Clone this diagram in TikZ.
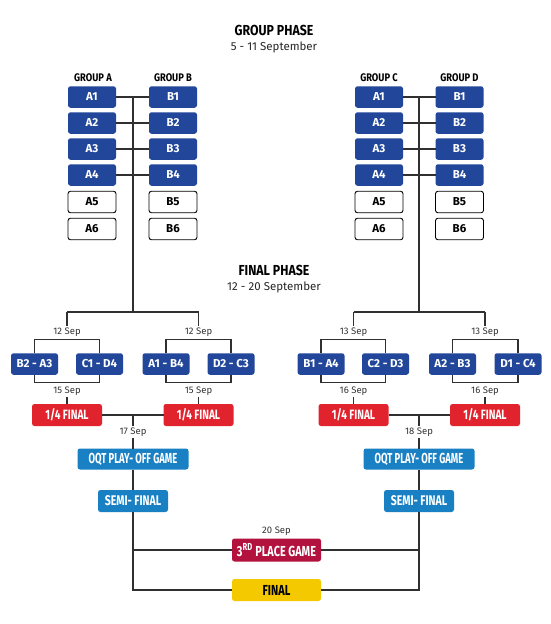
\documentclass[tikz,border=0pt]{standalone}
\usepackage{fontspec}
\setmainfont{Fira Sans}
\newfontfamily\fA{Fira Sans}[FakeStretch=0.65]
\newfontfamily\fB{Fira Sans}[FakeStretch=0.75]
\newfontfamily\fC{Fira Sans}[FakeStretch=0.85]
\newfontfamily\fD{Fira Sans}
\definecolor{gblue}{HTML}{21469A}
\definecolor{qred}{HTML}{E1232E}
\definecolor{lblue}{HTML}{1A80C4}
\definecolor{maroon}{HTML}{B3123F}
\definecolor{gold}{HTML}{F4C900}
\definecolor{linec}{HTML}{303030}
\begin{document}
\begin{tikzpicture}[x=1pt,y=-1pt,
  every node/.style={inner sep=0pt, outer sep=0pt},
  grp/.style={font=\fD\bfseries\fontsize{11.5}{12}\selectfont, text=white, fill=gblue, rounded corners=2.5pt, minimum width=48pt, minimum height=21.5pt},
  wgrp/.style={grp, fill=white, draw=black, line width=0.9pt, text=black},
  match/.style={grp, minimum width=47pt, minimum height=21.5pt},
  qf/.style={grp, fill=qred, font=\fB\bfseries\fontsize{13.5}{14}\selectfont, minimum width=70pt, minimum height=22pt},
  oqt/.style={grp, fill=lblue, font=\fA\bfseries\fontsize{14.5}{15}\selectfont, minimum width=111pt, minimum height=21pt},
  semi/.style={grp, fill=lblue, font=\fB\bfseries\fontsize{14}{15}\selectfont, minimum width=70pt, minimum height=22pt},
  third/.style={grp, fill=maroon, font=\fB\bfseries\fontsize{14.5}{15}\selectfont, minimum width=89pt, minimum height=23pt},
  fin/.style={grp, fill=gold, text=black, font=\fB\bfseries\fontsize{14.5}{15}\selectfont, minimum width=89pt, minimum height=22pt},
  glabel/.style={font=\fC\bfseries\fontsize{11}{12}\selectfont},
  date/.style={font=\fD\fontsize{9.5}{10}\selectfont, text=black!80, inner sep=1.5pt},
  title/.style={font=\fC\bfseries\fontsize{14.5}{16}\selectfont},
  subtitle/.style={font=\fD\fontsize{11.5}{13}\selectfont, text=black!85},
  conn/.style={line width=1.1pt, draw=linec}
]
\useasboundingbox[fill=white] (0,0) rectangle (550,624);

% titles
\node[title] (t1) at (274,30) {GROUP PHASE};
\node[subtitle] (t2) at (274,47) {5 - 11 September};
\node[title] (t3) at (274,270) {FINAL PHASE};
\node[subtitle] (t4) at (274,287) {12 - 20 September};

% group labels
\node[glabel] (la) at (93,78) {GROUP A};
\node[glabel] (lb) at (173,78) {GROUP B};
\node[glabel] (lc) at (379,78) {GROUP C};
\node[glabel] (ld) at (459.5,78) {GROUP D};

% group boxes
\foreach \i/\yy in {1/97,2/123,3/149,4/175} {
  \node[grp] (ga\i) at (92,\yy) {A\i};
  \node[grp] (gb\i) at (173,\yy) {B\i};
  \node[grp] (gc\i) at (379,\yy) {A\i};
  \node[grp] (gd\i) at (459.5,\yy) {B\i};
  \draw[conn] (ga\i) -- (gb\i);
  \draw[conn] (gc\i) -- (gd\i);
}
\foreach \i/\yy in {5/202,6/229} {
  \node[wgrp] (ga\i) at (92,\yy) {A\i};
  \node[wgrp] (gb\i) at (173,\yy) {B\i};
  \node[wgrp] (gc\i) at (379,\yy) {A\i};
  \node[wgrp] (gd\i) at (459.5,\yy) {B\i};
}

% trunk lines
\coordinate (jL) at (133,312);
\coordinate (jR) at (419,312);
\draw[conn] (jL |- ga1) -- (jL);
\draw[conn] (jR |- gc1) -- (jR);
\coordinate (qL1) at (67,312);
\coordinate (qL2) at (198.5,312);
\coordinate (qR1) at (353.5,312);
\coordinate (qR2) at (485,312);
\draw[conn] (qL1) -- (qL2);
\draw[conn] (qR1) -- (qR2);

% date labels round of 8 matches
\node[date] (d12a) at (67,332) {12 Sep};
\node[date] (d12b) at (198.5,332) {12 Sep};
\node[date] (d13a) at (353.5,332) {13 Sep};
\node[date] (d13b) at (485,332) {13 Sep};
\draw[conn] (qL1) -- (d12a.north);
\draw[conn] (qL2) -- (d12b.north);
\draw[conn] (qR1) -- (d13a.north);
\draw[conn] (qR2) -- (d13b.north);

% matches
\node[match] (m1) at (34.5,364) {B2 - A3};
\node[match] (m2) at (99.5,364) {C1 - D4};
\node[match] (m3) at (166,364) {A1 - B4};
\node[match] (m4) at (231,364) {D2 - C3};
\node[match] (m5) at (321,364) {B1 - A4};
\node[match] (m6) at (385.5,364) {C2 - D3};
\node[match] (m7) at (452.5,364) {A2 - B3};
\node[match] (m8) at (518,364) {D1 - C4};
\foreach \a/\b in {m1/m2,m3/m4,m5/m6,m7/m8} {
  \draw[conn] (\a.north) -- ++(0,-14) -| (\b.north);
  \draw[conn] (\a.south) -- ++(0,8) -| (\b.south);
}

% quarter final dates
\node[date] (d15a) at (67,391) {15 Sep};
\node[date] (d15b) at (198.5,391) {15 Sep};
\node[date] (d16a) at (353.5,391) {16 Sep};
\node[date] (d16b) at (485,391) {16 Sep};

% quarter finals
\node[qf] (qf1) at (67,415) {1/4 FINAL};
\node[qf] (qf2) at (198.5,415) {1/4 FINAL};
\node[qf] (qf3) at (353.5,415) {1/4 FINAL};
\node[qf] (qf4) at (485,415) {1/4 FINAL};
\draw[conn] (d15a.south) -- (qf1.north);
\draw[conn] (d15b.south) -- (qf2.north);
\draw[conn] (d16a.south) -- (qf3.north);
\draw[conn] (d16b.south) -- (qf4.north);
\draw[conn] (qf1) -- (qf2);
\draw[conn] (qf3) -- (qf4);
\coordinate (kL) at (133,415);
\coordinate (kR) at (419,415);

\node[date] (d17) at (133,432) {17 Sep};
\node[date] (d18) at (419,432) {18 Sep};
\draw[conn] (kL) -- (d17.north);
\draw[conn] (kR) -- (d18.north);

% OQT and semis
\node[oqt] (oL) at (133,459) {OQT PLAY- OFF GAME};
\node[oqt] (oR) at (419,459) {OQT PLAY- OFF GAME};
\draw[conn] (d17.south) -- (oL.north);
\draw[conn] (d18.south) -- (oR.north);
\node[semi] (sL) at (133,501) {SEMI- FINAL};
\node[semi] (sR) at (419,501) {SEMI- FINAL};
\draw[conn] (oL) -- (sL);
\draw[conn] (oR) -- (sR);

% finals
\node[date] (d20) at (276.5,531) {20 Sep};
\node[third] (tp) at (276.5,550) {3\textsuperscript{RD} PLACE GAME};
\node[fin] (fn) at (276.5,590) {FINAL};
\draw[conn] (sL.south) |- (fn.west);
\draw[conn] (sR.south) |- (fn.east);
\draw[conn] (sL.south |- tp.west) -- (tp.west);
\draw[conn] (tp.east) -- (sR.south |- tp.east);
\end{tikzpicture}
\end{document}
